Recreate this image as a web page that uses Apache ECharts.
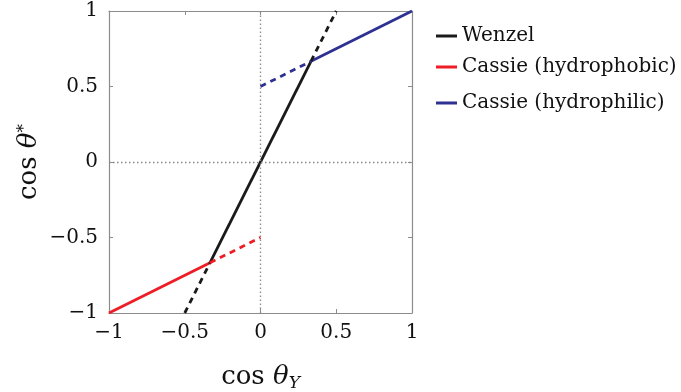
<!DOCTYPE html>
<html><head><meta charset="utf-8">
<script src="https://cdn.jsdelivr.net/npm/echarts@6/dist/echarts.min.js"></script>
<style>html,body{margin:0;padding:0;background:#fff}#c{width:681px;height:392px}</style>
</head><body><div id="c"></div>
<script>
var xTicks = [-1, -0.5, 0, 0.5, 1];
var yTicks = [-1, -0.5, 0, 0.5, 1];
var wenzelSolid = [[-0.333, -0.667], [0.333, 0.667]];
var wenzelDashLow = [[-0.5, -1], [-0.333, -0.667]];
var wenzelDashHigh = [[0.333, 0.667], [0.5, 1]];
var phobicSolid = [[-1, -1], [-0.333, -0.667]];
var phobicDash = [[-0.333, -0.667], [0, -0.5]];
var philicSolid = [[0.333, 0.667], [1, 1]];
var philicDash = [[0, 0.5], [0.333, 0.667]];
var names = ['Wenzel', 'Cassie (hydrophobic)', 'Cassie (hydrophilic)'];
var colors = ['#1a1a1a', '#ee1c25', '#2e3192'];

var serif = 'DejaVu Serif';
function fmt(v) { return v < 0 ? '\u2212' + Math.abs(v) : String(v); }
var chart = echarts.init(document.getElementById('c'));
function line(name, data, color, dashed) {
  return { type: 'line', name: name, data: data, xAxisIndex: 0, yAxisIndex: 0, symbol: 'none',
    lineStyle: { color: color, width: 2.8, type: dashed ? [6, 5] : 'solid' }, itemStyle: { color: color },
    silent: true, animation: false };
}
var axisCommon = {
  type: 'value', min: -1, max: 1, interval: 0.5,
  axisLine: { show: true, onZero: false, lineStyle: { color: '#8c8c8c', width: 1.2 } },
  axisTick: { show: true, inside: true, length: 4, lineStyle: { color: '#8c8c8c' } },
  splitLine: { show: false }
};
function leg(i, top) {
  return { orient: 'vertical', left: 431, top: top, itemWidth: 21, itemHeight: 3, icon: 'rect', itemGap: 0,
    data: [names[i]], textStyle: { fontFamily: serif, fontSize: 20, color: '#111' } };
}
chart.setOption({
  animation: false,
  grid: { left: 109, right: 269, top: 11, bottom: 79, outerBoundsMode: 'none', containLabel: false },
  legend: [leg(0, 21), leg(1, 52), leg(2, 88)],
  xAxis: [
    Object.assign({}, axisCommon, { position: 'bottom',
      axisLabel: { formatter: fmt, fontFamily: serif, fontSize: 20, color: '#111', margin: 10 },
      name: '{a|cos }{b|θ}{c|Y}', nameLocation: 'middle', nameGap: 50,
      nameTextStyle: { rich: {
        a: { fontFamily: serif, fontSize: 26, color: '#111' },
        b: { fontFamily: serif, fontSize: 26, fontStyle: 'italic', color: '#111' },
        c: { fontFamily: serif, fontSize: 17, fontStyle: 'italic', color: '#111', verticalAlign: 'bottom', padding: [12, 0, 0, 0] } } } }),
    Object.assign({}, axisCommon, { position: 'top', axisLabel: { show: false } })
  ],
  yAxis: [
    Object.assign({}, axisCommon, { position: 'left',
      axisLabel: { formatter: fmt, fontFamily: serif, fontSize: 20, color: '#111', margin: 11 },
      name: '{a|cos }{b|θ}{c|*}', nameLocation: 'middle', nameGap: 66, nameRotate: 90,
      nameTextStyle: { rich: {
        a: { fontFamily: serif, fontSize: 26, color: '#111' },
        b: { fontFamily: serif, fontSize: 26, fontStyle: 'italic', color: '#111' },
        c: { fontFamily: serif, fontSize: 17, color: '#111', verticalAlign: 'top', padding: [0, 0, 10, 0] } } } }),
    Object.assign({}, axisCommon, { position: 'right', axisLabel: { show: false } })
  ],
  series: [
    line(names[0], wenzelSolid, colors[0], false),
    line(names[1], phobicSolid, colors[1], false),
    line(names[2], philicSolid, colors[2], false),
    line(names[0], wenzelDashLow, colors[0], true),
    line(names[0], wenzelDashHigh, colors[0], true),
    line(names[1], phobicDash, colors[1], true),
    line(names[2], philicDash, colors[2], true),
    { type: 'line', data: [], silent: true,
      markLine: { silent: true, symbol: 'none', label: { show: false },
        lineStyle: { color: '#888', type: [1.5, 2.5], width: 1.3 },
        data: [{ xAxis: 0 }, { yAxis: 0 }] } }
  ]
});
</script></body></html>
